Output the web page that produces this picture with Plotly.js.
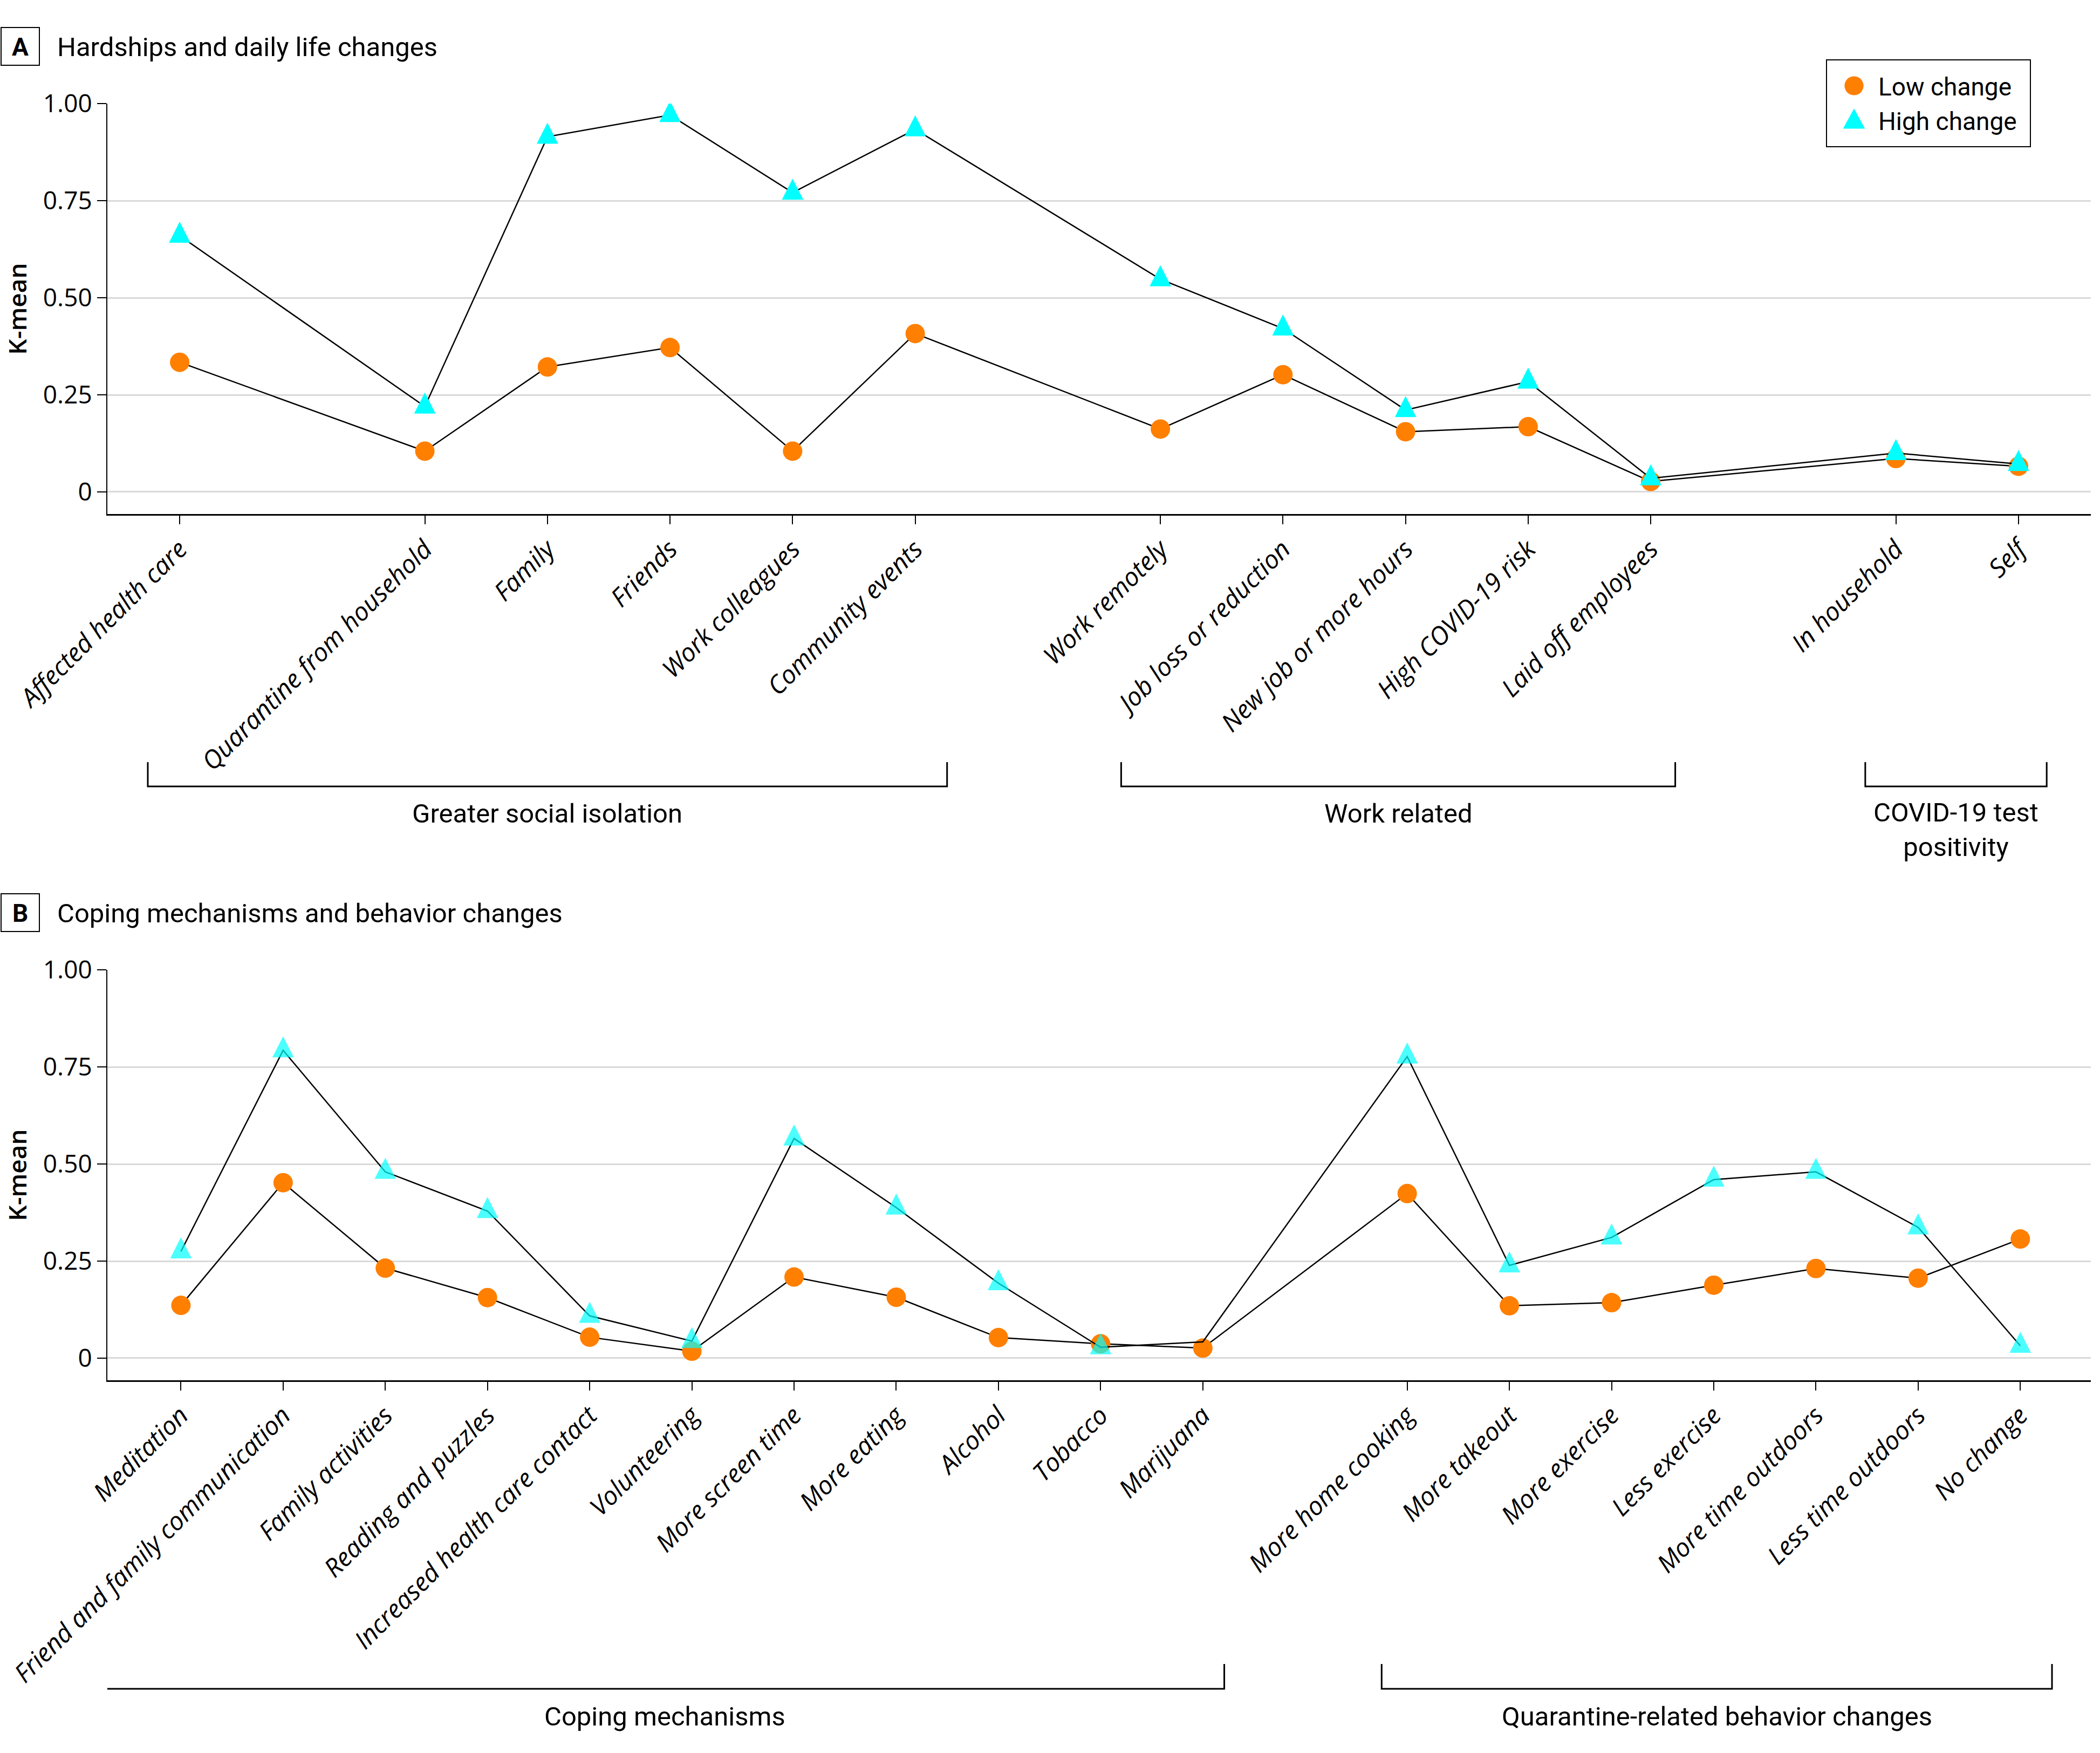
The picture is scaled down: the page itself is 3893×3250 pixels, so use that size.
<!DOCTYPE html>
<html>
<head>
<meta charset="utf-8">
<script src="https://cdn.plot.ly/plotly-3.0.1.min.js"></script>
<style>
  html, body { margin: 0; padding: 0; background: #fff; }
  #chart { width: 3893px; height: 3250px; }
</style>
</head>
<body>
<div id="chart"></div>
<script>
// ---------------- DATA ----------------
const seriesNames = ['Low change', 'High change'];

const catsA = ['Affected health care', 'Quarantine from household', 'Family', 'Friends',
  'Work colleagues', 'Community events', 'Work remotely', 'Job loss or reduction',
  'New job or more hours', 'High COVID-19 risk', 'Laid off employees', 'In household', 'Self'];
const lowA  = [0.334, 0.105, 0.322, 0.372, 0.105, 0.408, 0.162, 0.302, 0.155, 0.168, 0.027, 0.086, 0.066];
const highA = [0.660, 0.220, 0.915, 0.971, 0.771, 0.934, 0.548, 0.421, 0.211, 0.284, 0.035, 0.100, 0.072];

const catsB = ['Meditation', 'Friend and family communication', 'Family activities', 'Reading and puzzles',
  'Increased health care contact', 'Volunteering', 'More screen time', 'More eating', 'Alcohol',
  'Tobacco', 'Marijuana', 'More home cooking', 'More takeout', 'More exercise', 'Less exercise',
  'More time outdoors', 'Less time outdoors', 'No change'];
const lowB  = [0.136, 0.452, 0.232, 0.156, 0.054, 0.018, 0.209, 0.157, 0.053, 0.037, 0.026, 0.424, 0.135, 0.143, 0.188, 0.231, 0.206, 0.307];
const highB = [0.275, 0.793, 0.480, 0.379, 0.109, 0.044, 0.566, 0.388, 0.193, 0.028, 0.042, 0.777, 0.239, 0.311, 0.460, 0.480, 0.337, 0.032];

const yTickVals = [0, 0.25, 0.5, 0.75, 1];
const yTickText = ['0', '0.25', '0.50', '0.75', '1.00'];

const groupsA = [
  { label: 'Greater social isolation', from: 0, to: 5 },
  { label: 'Work related', from: 6, to: 10 },
  { label: 'COVID-19 test<br>positivity', from: 11, to: 12 }
];
const groupsB = [
  { label: 'Coping mechanisms', from: 0, to: 10 },
  { label: 'Quarantine-related behavior changes', from: 11, to: 17 }
];

// ---------------- LAYOUT HELPERS ----------------
// an empty slot follows these category indices
const gapsA = [0, 5, 10];
const gapsB = [10];
// bracket padding (left, right) in category units
const padA = [[0.26, 0.26], [0.32, 0.20], [0.25, 0.23]];
const padB = [[0.74, 0.21], [0.25, 0.31]];
// markers not drawn in the reference
const hiddenHighB = ['Marijuana'];

function slots(n, gaps) {
  const out = []; let p = 0;
  for (let i = 0; i < n; i++) { out.push(p); p += gaps.includes(i) ? 2 : 1; }
  return out;
}
const xA = slots(catsA.length, gapsA);
const xB = slots(catsB.length, gapsB);

const W = 3893, H = 3250;
const mL = 199, mR = 17, mT = 192, mB = 691;
const plotH = H - mT - mB;
const py = Y => (H - mB - Y) / plotH;   // pixel Y -> paper y
const pxp = X => (X - mL) / (W - mL - mR);

const ORANGE = '#FF7F00', CYAN = '#00FFFF';
const LINE = { color: '#000', width: 2.5 };
const TRI = 40, DOT = 36;

const data = [
  { x: xA, y: lowA, text: catsA, name: seriesNames[0], type: 'scatter', mode: 'lines+markers',
    xaxis: 'x', yaxis: 'y', line: LINE, legendrank: 1,
    marker: { symbol: 'circle', size: DOT, color: ORANGE, line: { width: 0 } } },
  { x: xA, y: highA, text: catsA, name: seriesNames[1], type: 'scatter', mode: 'lines+markers',
    xaxis: 'x', yaxis: 'y', line: LINE, legendrank: 2,
    marker: { symbol: 'triangle-up', size: TRI, color: CYAN, line: { width: 0 } } },
  { x: xB, y: lowB, text: catsB, name: seriesNames[0], type: 'scatter', mode: 'lines+markers',
    xaxis: 'x2', yaxis: 'y2', line: LINE, showlegend: false,
    marker: { symbol: 'circle', size: DOT, color: ORANGE, line: { width: 0 } } },
  { x: xB, y: highB, text: catsB, name: seriesNames[1], type: 'scatter', mode: 'lines+markers',
    xaxis: 'x2', yaxis: 'y2', line: LINE, showlegend: false,
    marker: { symbol: 'triangle-up', size: catsB.map(c => hiddenHighB.includes(c) ? 0 : TRI),
              color: CYAN, line: { width: 0 } } }
];

const tickFontX = { family: 'Open Sans, sans-serif', size: 47, color: '#000', style: 'italic' };
const tickFontY = { family: 'Open Sans, sans-serif', size: 46, color: '#000' };
const txtFont = { family: 'Roboto, sans-serif', size: 49, color: '#000' };

function xAxis(vals, labels, range) {
  return {
    range: range, tickmode: 'array', tickvals: vals, ticktext: labels, tickangle: -45,
    ticks: 'outside', ticklen: 16, tickwidth: 2, tickcolor: '#000',
    showline: true, linecolor: '#000', linewidth: 3, showgrid: false, zeroline: false,
    tickfont: tickFontX, automargin: false, fixedrange: true
  };
}
function yAxis(domain) {
  return {
    domain: domain, range: [-0.057, 1.0005], tickmode: 'array', tickvals: yTickVals, ticktext: yTickText,
    ticks: 'outside', ticklen: 17, tickwidth: 2, tickcolor: '#000',
    showline: true, linecolor: '#000', linewidth: 2, showgrid: true, gridcolor: '#d9d9d9', gridwidth: 3,
    zeroline: false, tickfont: tickFontY, automargin: false, fixedrange: true,
    title: { text: 'K-mean', font: { family: 'Open Sans, sans-serif', size: 46, color: '#000', weight: 600 }, standoff: 22 }
  };
}

const shapes = [], annotations = [];

function panelHeader(letter, title, boxTopY) {
  shapes.push({ type: 'rect', xref: 'paper', yref: 'paper',
    x0: pxp(2), x1: pxp(73), y0: py(boxTopY), y1: py(boxTopY + 70),
    line: { color: '#000', width: 2 }, fillcolor: 'rgba(0,0,0,0)' });
  annotations.push({ xref: 'paper', yref: 'paper', x: pxp(37.5), y: py(boxTopY + 36),
    xanchor: 'center', yanchor: 'middle', showarrow: false, text: '<b>' + letter + '</b>',
    font: { family: 'Roboto, sans-serif', size: 46, color: '#000' } });
  annotations.push({ xref: 'paper', yref: 'paper', x: pxp(104), y: py(boxTopY + 36),
    xanchor: 'left', yanchor: 'middle', showarrow: false, text: title, font: txtFont });
}
panelHeader('A', 'Hardships and daily life changes', 51);
panelHeader('B', 'Coping mechanisms and behavior changes', 1657);

function brackets(groups, pos, pads, xref, topY, botY, labelY) {
  groups.forEach((g, i) => {
    const x0 = pos[g.from] - pads[i][0], x1 = pos[g.to] + pads[i][1];
    shapes.push({ type: 'path', xref: xref, yref: 'paper',
      path: `M ${x0} ${py(topY)} L ${x0} ${py(botY)} L ${x1} ${py(botY)} L ${x1} ${py(topY)}`,
      line: { color: '#000', width: 3 } });
    const twoLine = g.label.includes('<br>');
    annotations.push({ xref: xref, yref: 'paper', x: (x0 + x1) / 2,
      y: py(twoLine ? labelY + 31 : labelY), xanchor: 'center', yanchor: 'middle',
      showarrow: false, text: g.label, font: txtFont });
  });
}
brackets(groupsA, xA, padA, 'x', 1413, 1458, 1508);
brackets(groupsB, xB, padB, 'x2', 3085, 3131, 3182);

// legend box in pixels (reference)
const LEG = { left: 3385, top: 110, width: 380, height: 163, symX: 52, textX: 97, rowY: [49, 113] };

const layout = {
  width: W, height: H,
  paper_bgcolor: '#fff', plot_bgcolor: '#fff',
  margin: { l: mL, r: mR, t: mT, b: mB },
  showlegend: true,
  legend: {
    x: pxp(LEG.left + LEG.width), xanchor: 'right', y: py(LEG.top), yanchor: 'top',
    bordercolor: '#000', borderwidth: 2, bgcolor: '#fff',
    font: { family: 'Roboto, sans-serif', size: 46, color: '#000' },
    itemwidth: 60, tracegroupgap: 0
  },
  xaxis: Object.assign(xAxis(xA, catsA, [-0.59, 15.59]), { anchor: 'y' }),
  yaxis: Object.assign(yAxis([py(953), 1]), { anchor: 'x' }),
  xaxis2: Object.assign(xAxis(xB, catsB, [-0.72, 18.69]), { anchor: 'y2' }),
  yaxis2: Object.assign(yAxis([0, py(1798)]), { anchor: 'x2' }),
  shapes: shapes,
  annotations: annotations
};

Plotly.newPlot('chart', data, layout, { staticPlot: true, displayModeBar: false }).then(gd => {
  // reshape triangles so they are about as tall as they are wide, like the reference
  gd.calcdata.forEach(cd => {
    const tr = cd[0].trace;
    if (tr.marker && tr.marker.symbol === 'triangle-up' && cd[0].node3) {
      cd[0].node3.node().querySelectorAll('path.point').forEach(p => {
        const t = p.getAttribute('transform') || '';
        p.setAttribute('transform', t + ' scale(0.86,1.3)');
      });
    }
  });
  // legend: symbols only (no line), larger symbols, reference box size
  const leg = gd.querySelector('.legend');
  if (leg) {
    leg.setAttribute('transform', `translate(${LEG.left},${LEG.top})`);
    const bg = leg.querySelector('rect.bg');
    if (bg) {
      bg.setAttribute('x', 1); bg.setAttribute('y', 1);
      bg.setAttribute('width', LEG.width - 2); bg.setAttribute('height', LEG.height - 2);
    }
    const sb = leg.querySelector('.scrollbox');
    if (sb) { sb.removeAttribute('clip-path'); sb.setAttribute('transform', 'translate(0,0)'); }
    const grp = leg.querySelector('.groups');
    if (grp) grp.setAttribute('transform', 'translate(0,0)');
    leg.querySelectorAll('.legendlines').forEach(e => e.style.display = 'none');
    leg.querySelectorAll('g.traces').forEach((g, i) => {
      g.setAttribute('transform', `translate(0,${LEG.rowY[i]})`);
      const t = g.querySelector('text.legendtext');
      if (t) t.setAttribute('x', LEG.textX);
      g.querySelectorAll('path.scatterpts').forEach(p => {
        const isTri = (p.getAttribute('d') || '').indexOf('H') >= 0;
        p.setAttribute('transform', isTri ? `translate(${LEG.symX},3) scale(2.2,3.1)`
                                          : `translate(${LEG.symX},0) scale(2.2)`);
      });
    });
  }
});
</script>
</body>
</html>
